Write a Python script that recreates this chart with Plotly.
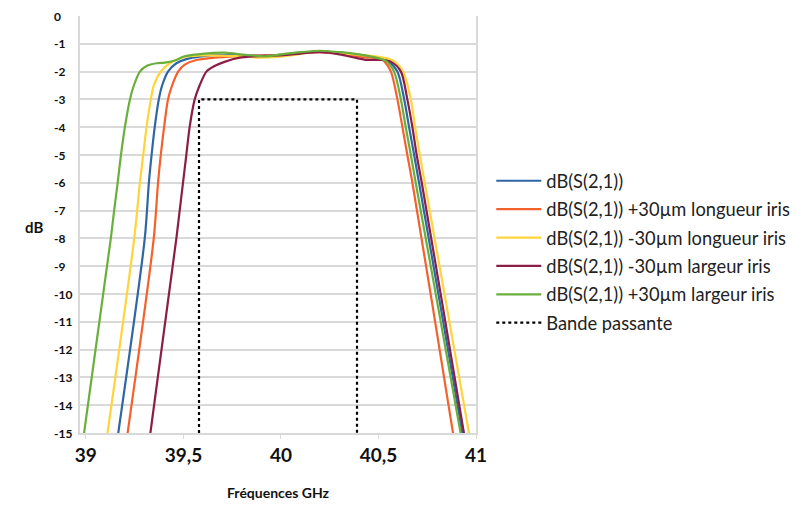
import plotly.graph_objects as go

# ---- data (frequency GHz, dB) ----
blue_f = [39.160, 39.302, 39.323, 39.337, 39.353, 39.374, 39.391, 39.421, 39.464, 39.515, 39.592,
          39.676, 39.800, 39.920, 40.000, 40.100, 40.200, 40.300, 40.400, 40.450, 40.520, 40.550,
          40.597, 40.632, 40.657, 40.683, 40.708, 40.930, 40.936]
blue_db = [-15.3, -8, -6, -5, -4, -3, -2.5, -2, -1.7, -1.55, -1.45,
           -1.4, -1.42, -1.42, -1.4, -1.33, -1.28, -1.32, -1.4, -1.45, -1.52, -1.62,
           -2, -3, -4, -5, -6, -15, -15.3]

orange_f = [39.208, 39.348, 39.370, 39.384, 39.401, 39.421, 39.442, 39.473, 39.507, 39.558, 39.660,
            39.780, 39.900, 40.000, 40.100, 40.200, 40.300, 40.400, 40.460, 40.512, 40.529,
            40.564, 40.597, 40.623, 40.648, 40.674, 40.882, 40.888]
orange_db = [-15.3, -8, -6, -5, -4, -3, -2.5, -2, -1.75, -1.6, -1.5,
             -1.45, -1.42, -1.4, -1.33, -1.3, -1.35, -1.45, -1.5, -1.52, -1.62,
             -2, -3, -4, -5, -6, -15, -15.3]

yellow_f = [39.105, 39.248, 39.277, 39.294, 39.311, 39.333, 39.348, 39.384, 39.430, 39.490, 39.592,
            39.790, 39.900, 40.050, 40.150, 40.220, 40.300, 40.400, 40.480, 40.540, 40.580,
            40.626, 40.666, 40.688, 40.712, 40.737, 40.964, 40.970]
yellow_db = [-15.3, -8, -6, -5, -4, -3, -2.5, -2, -1.7, -1.5, -1.42,
             -1.45, -1.5, -1.42, -1.3, -1.27, -1.33, -1.4, -1.45, -1.52, -1.62,
             -2, -3, -4, -5, -6, -15, -15.3]

purple_f = [39.325, 39.464, 39.481, 39.498, 39.515, 39.532, 39.558, 39.583, 39.618, 39.660, 39.711,
            39.788, 39.865, 39.950, 40.030, 40.100, 40.200, 40.300, 40.380, 40.440, 40.510, 40.565,
            40.615, 40.648, 40.674, 40.696, 40.722, 40.938, 40.944]
purple_db = [-15.3, -8, -7, -6, -5, -4, -3, -2.5, -2, -1.8, -1.65,
             -1.5, -1.45, -1.43, -1.4, -1.35, -1.3, -1.38, -1.5, -1.58, -1.58, -1.65,
             -2, -3, -4, -5, -6, -15, -15.3]

green_f = [38.985, 39.128, 39.145, 39.163, 39.180, 39.200, 39.226, 39.246, 39.277, 39.311, 39.362,
           39.405, 39.456, 39.507, 39.609, 39.711, 39.820, 39.920, 40.000, 40.100, 40.200, 40.300,
           40.400, 40.470, 40.540, 40.580, 40.615, 40.640, 40.666, 40.691, 40.921, 40.927]
green_db = [-15.3, -8, -7, -6, -5, -4, -3, -2.5, -2, -1.8, -1.7,
            -1.68, -1.6, -1.45, -1.35, -1.32, -1.4, -1.45, -1.38, -1.3, -1.25, -1.3,
            -1.38, -1.47, -1.62, -2, -3, -4, -5, -6, -15, -15.3]

band_f = [39.58, 39.58, 40.39, 40.39]
band_db = [-15, -3, -3, -15]

x_ticks = [39, 39.5, 40, 40.5, 41]
x_tick_labels = ["39", "39,5", "40", "40,5", "41"]
y_ticks = list(range(0, -16, -1))

names = ["dB(S(2,1))",
         "dB(S(2,1)) +30µm longueur iris",
         "dB(S(2,1)) -30µm longueur iris",
         "dB(S(2,1)) -30µm largeur iris",
         "dB(S(2,1)) +30µm largeur iris",
         "Bande passante"]
colors = ["#2e67a6", "#f5612c", "#ffd43a", "#8b1d47", "#6aaf3c", "#000000"]

FONT = "Lato"
fig = go.Figure()
series = [(blue_f, blue_db), (orange_f, orange_db), (yellow_f, yellow_db),
          (purple_f, purple_db), (green_f, green_db)]
for i, (fx, fy) in enumerate(series):
    fig.add_trace(go.Scatter(x=fx, y=fy, mode="lines", name=names[i], legendgroup=str(i),
                             line=dict(color=colors[i], width=2.2, shape="spline", smoothing=0.8)))
fig.add_trace(go.Scatter(x=band_f, y=band_db, mode="lines", name=names[5], legendgroup="5",
                         line=dict(color="black", width=2.2, dash="3px,3px")))

grid = "#d9d9d9"
fig.update_xaxes(range=[38.97, 41.0], tickvals=x_ticks, ticktext=x_tick_labels,
                 showgrid=False, zeroline=False, showline=True, linecolor=grid, linewidth=1.5,
                 ticks="outside", ticklen=4, tickcolor=grid,
                 tickfont=dict(family=FONT, size=19, color="#111", weight="bold"))
fig.update_yaxes(range=[-15, 0], tickvals=y_ticks, showticklabels=False,
                 showgrid=True, gridcolor=grid, gridwidth=1.8, zeroline=False,
                 showline=True, mirror=True, linecolor=grid, linewidth=1.5)

ann = []
for v in y_ticks:
    ann.append(dict(x=-0.0705, y=v, xref="paper", yref="y", xanchor="left", yanchor="middle",
                    text=str(v), showarrow=False,
                    font=dict(family=FONT, size=12, color="#111", weight="bold")))
ann.append(dict(x=-0.115, y=-7.6, xref="paper", yref="y", xanchor="center", yanchor="middle",
                text="dB", showarrow=False, font=dict(family=FONT, size=15, color="#111", weight="bold")))
ann.append(dict(x=0.5, y=-0.143, xref="paper", yref="paper", xanchor="center", yanchor="middle",
                text="Fréquences GHz", showarrow=False,
                font=dict(family=FONT, size=14, color="#111", weight="bold")))

fig.update_layout(
    width=794, height=498,
    margin=dict(l=72, r=325, t=8, b=73),
    plot_bgcolor="white", paper_bgcolor="white",
    annotations=ann,
    legend=dict(x=1.036, y=0.649, xanchor="left", yanchor="top",
                font=dict(family=FONT, size=18.3, color="#222"),
                tracegroupgap=1.6, itemwidth=45, bgcolor="rgba(0,0,0,0)"),
    showlegend=True,
)
fig.write_html("out.html")
